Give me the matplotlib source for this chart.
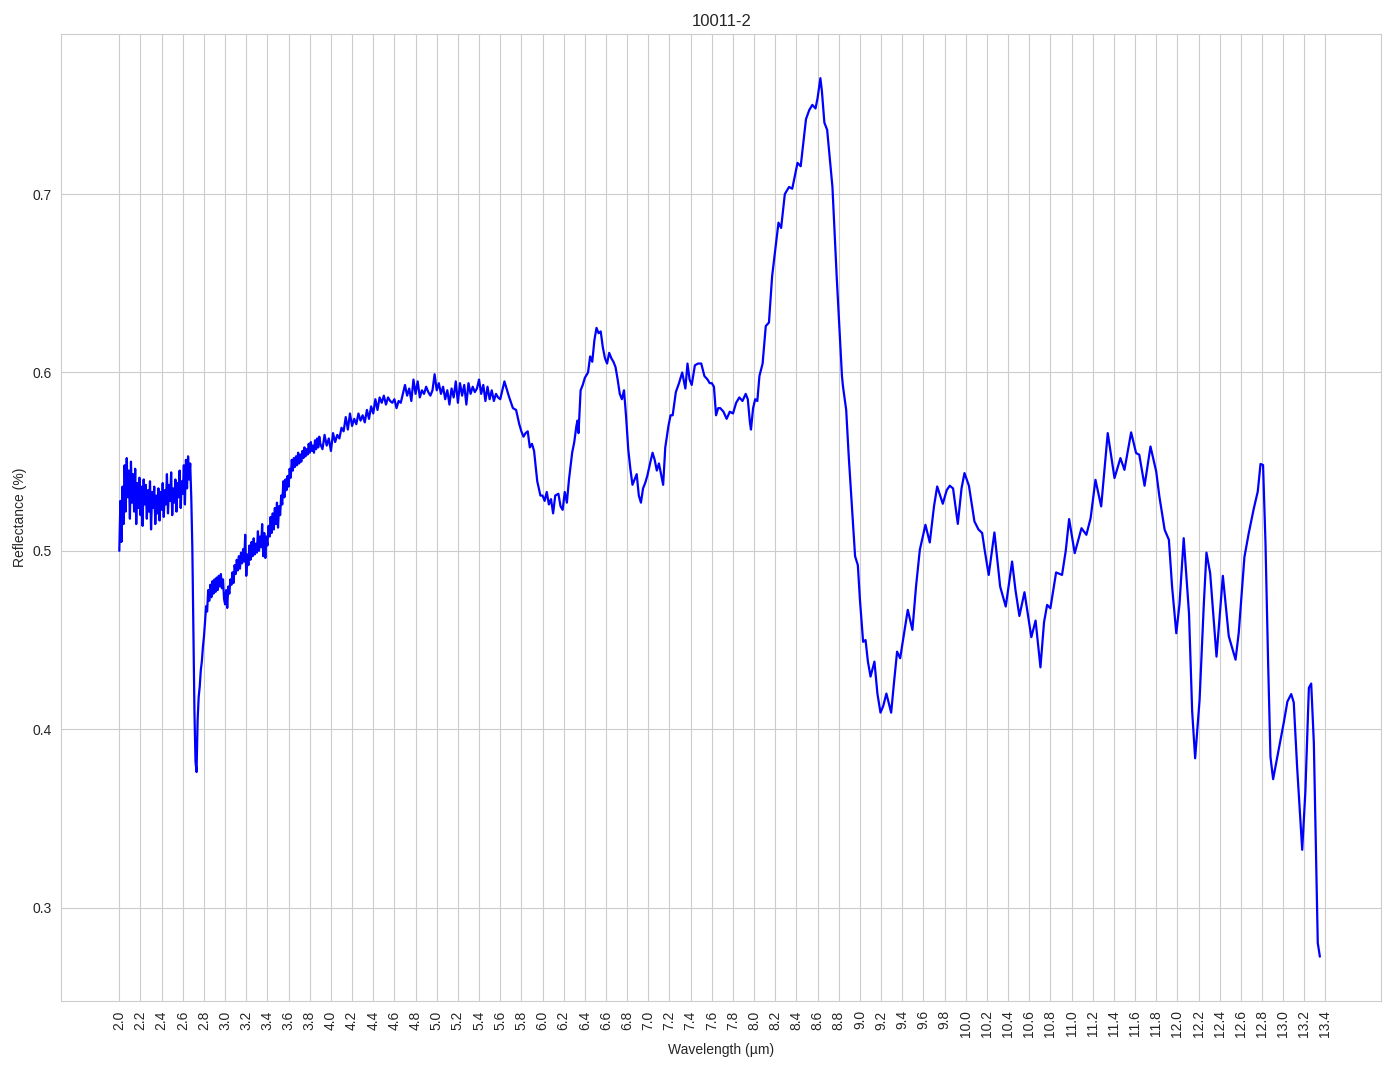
import numpy as np
import matplotlib
matplotlib.use("Agg")
import matplotlib.pyplot as plt
import seaborn as sns

title = "10011-2"

# noisy start, sampled every 0.01 um (2.00 .. 2.68)
wl_a = np.round(np.arange(2.00, 2.685, 0.01), 2)
refl_a = [
    0.500, 0.528, 0.505, 0.536, 0.515, 0.548, 0.522, 0.552, 0.530, 0.545,
    0.518, 0.550, 0.527, 0.543, 0.522, 0.546, 0.515, 0.538, 0.524, 0.541,
    0.520, 0.536, 0.514, 0.540, 0.526, 0.537, 0.518, 0.534, 0.522, 0.539,
    0.512, 0.533, 0.524, 0.536, 0.515, 0.531, 0.521, 0.535, 0.517, 0.533,
    0.523, 0.538, 0.519, 0.534, 0.526, 0.543, 0.521, 0.537, 0.528, 0.544,
    0.520, 0.535, 0.527, 0.540, 0.522, 0.538, 0.530, 0.545, 0.524, 0.539,
    0.532, 0.548, 0.526, 0.551, 0.535, 0.553, 0.540, 0.549, 0.530,
]

# water band dip and recovery, every 0.01 um (2.69 .. 3.90)
wl_b = np.round(np.arange(2.69, 3.905, 0.01), 2)
refl_b = [
    0.502, 0.455, 0.410, 0.382, 0.376, 0.405, 0.418, 0.424, 0.433, 0.438,
    0.446, 0.452, 0.460, 0.469, 0.466, 0.478, 0.472, 0.481, 0.474, 0.483,
    0.476, 0.484, 0.477, 0.485, 0.478, 0.486, 0.480, 0.487, 0.479, 0.484,
    0.473, 0.470, 0.478, 0.468, 0.480, 0.476, 0.484, 0.481, 0.488, 0.482,
    0.492, 0.487, 0.495, 0.489, 0.497, 0.490, 0.499, 0.493, 0.501, 0.494,
    0.509, 0.486, 0.498, 0.492, 0.503, 0.495, 0.505, 0.497, 0.507, 0.498,
    0.504, 0.499, 0.511, 0.500, 0.508, 0.502, 0.515, 0.497, 0.510, 0.496,
    0.508, 0.503, 0.514, 0.508, 0.519, 0.510, 0.521, 0.512, 0.524, 0.515,
    0.527, 0.513, 0.525, 0.520, 0.531, 0.526, 0.539, 0.530, 0.540, 0.534,
    0.542, 0.536, 0.546, 0.541, 0.551, 0.545, 0.552, 0.547, 0.553, 0.548,
    0.555, 0.549, 0.554, 0.550, 0.556, 0.552, 0.558, 0.553, 0.557, 0.554,
    0.560, 0.555, 0.561, 0.556, 0.559, 0.555, 0.562, 0.557, 0.563, 0.558,
    0.564, 0.560,
]

# plateau, every 0.02 um (3.92 .. 5.68)
wl_c = np.round(np.arange(3.92, 5.685, 0.02), 2)
refl_c = [
    0.557, 0.565, 0.559, 0.563, 0.556, 0.566, 0.561, 0.565, 0.563, 0.569,
    0.567, 0.575, 0.568, 0.577, 0.570, 0.574, 0.571, 0.577, 0.573, 0.576,
    0.572, 0.579, 0.574, 0.581, 0.577, 0.585, 0.579, 0.586, 0.583, 0.587,
    0.582, 0.586, 0.584, 0.583, 0.585, 0.580, 0.584, 0.583, 0.588, 0.593,
    0.587, 0.591, 0.584, 0.596, 0.588, 0.595, 0.586, 0.590, 0.588, 0.592,
    0.589, 0.587, 0.590, 0.599, 0.590, 0.594, 0.588, 0.592, 0.585, 0.590,
    0.582, 0.591, 0.586, 0.595, 0.583, 0.594, 0.587, 0.593, 0.582, 0.594,
    0.588, 0.592, 0.589, 0.591, 0.596, 0.588, 0.593, 0.584, 0.592, 0.585,
    0.590, 0.584, 0.588, 0.586, 0.585, 0.590, 0.595, 0.591, 0.587,
]

# smoother long-wave part, read point by point
wl_d = [
    5.72, 5.75, 5.78, 5.80, 5.82, 5.84, 5.86, 5.88, 5.90, 5.92,
    5.95, 5.98, 6.00, 6.02, 6.04, 6.06, 6.08, 6.10, 6.12, 6.15,
    6.17, 6.19, 6.21, 6.23, 6.25, 6.28, 6.30, 6.32, 6.33, 6.34,
    6.36, 6.38, 6.40, 6.43, 6.45, 6.47, 6.49, 6.51, 6.53, 6.55,
    6.57, 6.59, 6.61, 6.63, 6.65, 6.67, 6.69, 6.71, 6.73, 6.75,
    6.77, 6.79, 6.81, 6.83, 6.85, 6.87, 6.89, 6.91, 6.93, 6.95,
    6.97, 6.99, 7.02, 7.04, 7.06, 7.08, 7.10, 7.12, 7.14, 7.16,
    7.19, 7.21, 7.23, 7.26, 7.29, 7.32, 7.35, 7.37, 7.39, 7.41,
    7.44, 7.47, 7.50, 7.53, 7.56, 7.58, 7.60, 7.62, 7.64, 7.66,
    7.68, 7.71, 7.74, 7.77, 7.80, 7.83, 7.86, 7.89, 7.92, 7.94,
    7.96, 7.97, 7.99, 8.01, 8.03, 8.05, 8.08, 8.11, 8.14, 8.17,
    8.20, 8.23, 8.255, 8.29, 8.33, 8.36, 8.41, 8.44, 8.49, 8.52,
    8.55, 8.58, 8.60, 8.626, 8.64, 8.664, 8.69, 8.74, 8.78, 8.83,
    8.84, 8.87, 8.894, 8.926, 8.954, 8.98, 9.00, 9.03, 9.053, 9.075,
    9.10, 9.137, 9.165, 9.194, 9.22, 9.25, 9.275, 9.295, 9.32, 9.351,
    9.38, 9.42, 9.452, 9.496, 9.53, 9.566, 9.619, 9.66, 9.70, 9.73,
    9.783, 9.82, 9.849, 9.88, 9.925, 9.96, 9.988, 10.03, 10.082, 10.12,
    10.155, 10.18, 10.217, 10.271, 10.325, 10.378, 10.438, 10.47, 10.507, 10.555,
    10.62, 10.66, 10.706, 10.74, 10.769, 10.80, 10.854, 10.91, 10.945, 10.977,
    11.03, 11.094, 11.14, 11.18, 11.226, 11.28, 11.31, 11.342, 11.406, 11.462,
    11.50, 11.563, 11.61, 11.64, 11.69, 11.746, 11.80, 11.83, 11.88, 11.92,
    11.95, 11.99, 12.02, 12.06, 12.11, 12.14, 12.168, 12.21, 12.25, 12.275,
    12.31, 12.37, 12.43, 12.486, 12.55, 12.58, 12.634, 12.675, 12.722, 12.76,
    12.786, 12.81, 12.833, 12.858, 12.88, 12.905, 12.96, 13.006, 13.04, 13.076,
    13.10, 13.132, 13.18, 13.21, 13.243, 13.265, 13.29, 13.327, 13.347,
]
refl_d = [
    0.580, 0.579, 0.571, 0.567, 0.564, 0.566, 0.567, 0.558, 0.560, 0.556,
    0.539, 0.531, 0.531, 0.528, 0.533, 0.526, 0.529, 0.521, 0.531, 0.532,
    0.525, 0.523, 0.533, 0.527, 0.540, 0.555, 0.561, 0.570, 0.573, 0.566,
    0.590, 0.593, 0.597, 0.600, 0.609, 0.606, 0.618, 0.625, 0.622, 0.623,
    0.614, 0.608, 0.605, 0.611, 0.608, 0.606, 0.603, 0.596, 0.588, 0.585,
    0.590, 0.575, 0.557, 0.546, 0.537, 0.540, 0.543, 0.531, 0.527, 0.535,
    0.538, 0.542, 0.550, 0.555, 0.551, 0.545, 0.549, 0.543, 0.537, 0.558,
    0.570, 0.576, 0.576, 0.589, 0.594, 0.600, 0.591, 0.605, 0.596, 0.593,
    0.604, 0.605, 0.605, 0.598, 0.596, 0.594, 0.594, 0.592, 0.576, 0.580,
    0.580, 0.578, 0.574, 0.578, 0.577, 0.583, 0.586, 0.584, 0.588, 0.585,
    0.572, 0.568, 0.580, 0.585, 0.584, 0.598, 0.605, 0.626, 0.628, 0.654,
    0.669, 0.684, 0.681, 0.700, 0.704, 0.703, 0.7175, 0.7156, 0.742, 0.747,
    0.750, 0.748, 0.754, 0.765, 0.758, 0.740, 0.736, 0.704, 0.654, 0.598,
    0.592, 0.579, 0.553, 0.523, 0.497, 0.492, 0.4725, 0.449, 0.450, 0.438,
    0.4295, 0.4379, 0.420, 0.4093, 0.413, 0.420, 0.414, 0.4093, 0.425, 0.4435,
    0.4398, 0.455, 0.4669, 0.4557, 0.480, 0.5006, 0.5146, 0.5047, 0.525, 0.5361,
    0.5264, 0.534, 0.5365, 0.535, 0.5151, 0.535, 0.5436, 0.5365, 0.5165, 0.512,
    0.510, 0.500, 0.4865, 0.5103, 0.480, 0.4688, 0.494, 0.478, 0.4635, 0.4768,
    0.4516, 0.4609, 0.4347, 0.460, 0.4697, 0.4678, 0.4879, 0.4865, 0.500, 0.5178,
    0.4987, 0.5127, 0.509, 0.5183, 0.5398, 0.5249, 0.545, 0.566, 0.5408, 0.552,
    0.5454, 0.5664, 0.5548, 0.5539, 0.5365, 0.5585, 0.5445, 0.5305, 0.5118, 0.5062,
    0.480, 0.4538, 0.470, 0.5071, 0.465, 0.410, 0.3837, 0.4164, 0.470, 0.499,
    0.4875, 0.4407, 0.486, 0.4521, 0.439, 0.454, 0.4966, 0.510, 0.5236, 0.5333,
    0.5487, 0.5481, 0.5043, 0.4367, 0.3845, 0.372, 0.3894, 0.4038, 0.4155, 0.4197,
    0.415, 0.3787, 0.3324, 0.3652, 0.4232, 0.4256, 0.3923, 0.2802, 0.2725,
]

wavelength = np.concatenate([wl_a, wl_b, wl_c, wl_d])
reflectance = np.concatenate([refl_a, refl_b, refl_c, refl_d])

xtick_values = np.round(np.arange(2.0, 13.41, 0.2), 1)

sns.set_style("whitegrid")
plt.rcParams["font.family"] = ["Liberation Sans", "DejaVu Sans"]

fig, ax = plt.subplots(figsize=(13.94, 10.69), dpi=100)
fig.subplots_adjust(left=0.044, right=0.991, top=0.968, bottom=0.064)

ax.plot(wavelength, reflectance, color="blue", linewidth=1.6)

ax.set_xlim(1.452, 13.929)
ax.set_xticks(xtick_values)
ax.set_xticklabels([f"{v:.1f}" for v in xtick_values], rotation=90)
ax.set_yticks([0.3, 0.4, 0.5, 0.6, 0.7])

ax.set_title(title)
ax.set_xlabel("Wavelength (µm)")
ax.set_ylabel("Reflectance (%)")

fig.savefig("out.png", dpi=100)
